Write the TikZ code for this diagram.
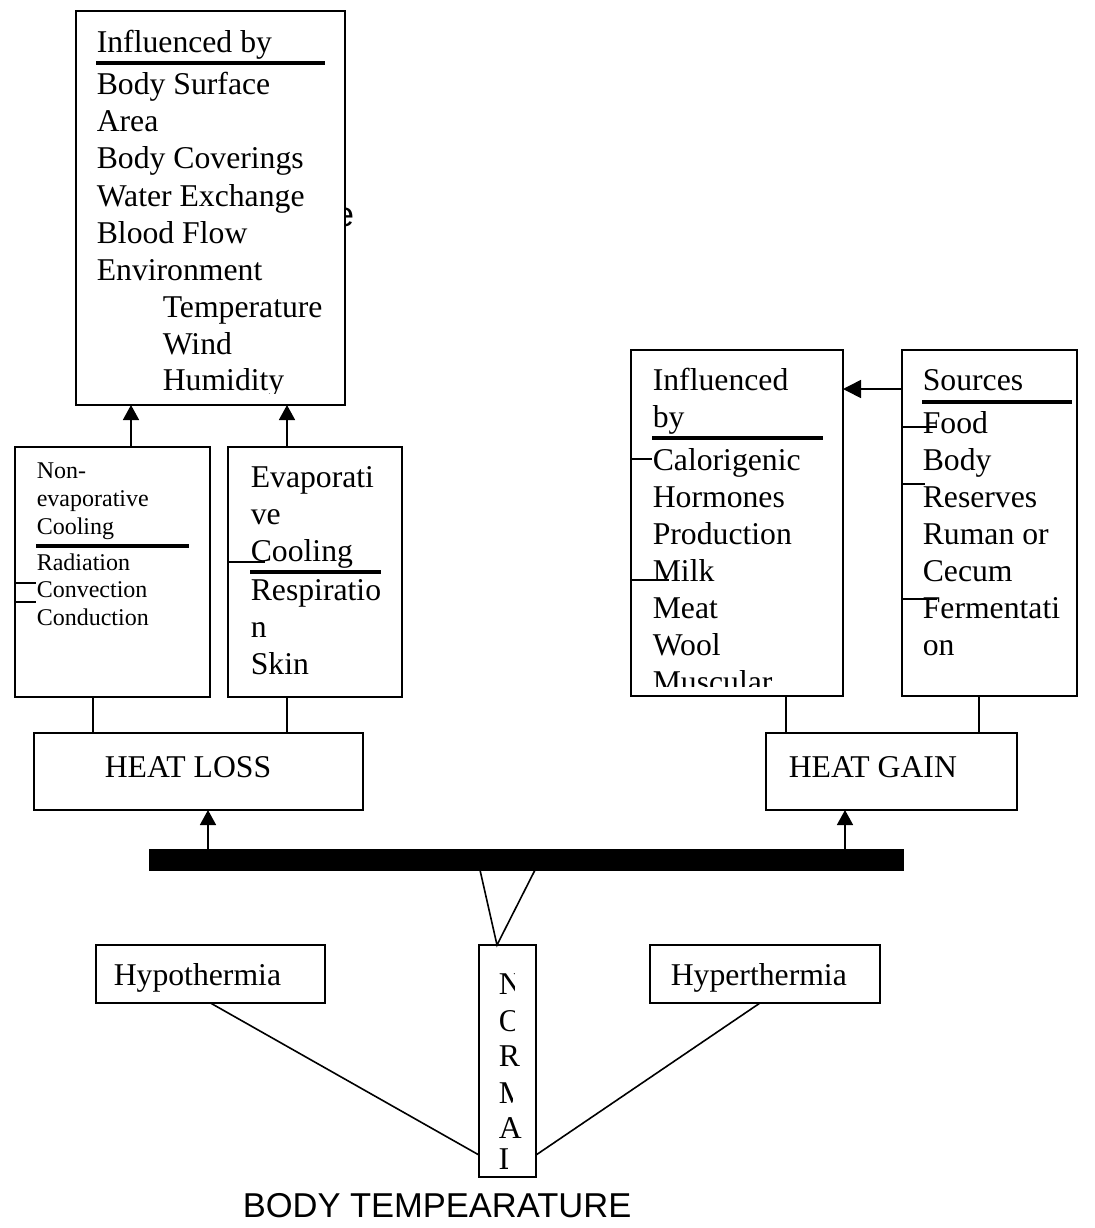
\documentclass[tikz,border=0pt]{standalone}
\usepackage{fontspec}
\setmainfont{Liberation Serif}
\setsansfont{Liberation Sans}
\usetikzlibrary{arrows.meta}

\begin{document}
\begin{tikzpicture}[x=0.5pt,y=-0.5pt,line width=0.8pt,
  box/.style={draw,fill=white,outer sep=0pt,inner sep=0pt},
  txt/.style={anchor=base west,inner sep=0pt,font=\fontsize{15.85}{18}\selectfont},
  small/.style={anchor=base west,inner sep=0pt,font=\fontsize{12}{14}\selectfont},
  sans/.style={anchor=base west,inner sep=0pt,font=\sffamily\fontsize{17.25}{20}\selectfont},
  rule/.style={line width=1.6pt},
  tip/.style={-{Triangle[width=8pt,length=7.5pt]}},
  bigtip/.style={-{Triangle[width=9pt,length=9pt]}}]
  \useasboundingbox (0,0) rectangle (1094,1228);

  \node[sans] (stray) at (334,226) {e};
  \node[box,minimum width=134.5pt,minimum height=197pt] (infl) at (210.5,208) {};
  \node[box,minimum width=97.5pt,minimum height=125pt] (nonevap) at (112.5,572) {};
  \node[box,minimum width=87pt,minimum height=125pt] (evap) at (315,572) {};
  \node[box,minimum width=164.5pt,minimum height=38.5pt] (loss) at (198.5,771.5) {};
  \node[box,minimum width=106pt,minimum height=173pt] (gainby) at (737,523) {};
  \node[box,minimum width=87.5pt,minimum height=173pt] (src) at (989.5,523) {};
  \node[box,minimum width=125.5pt,minimum height=38.5pt] (gain) at (891.5,771.5) {};
  \node[box,fill=black,minimum width=376.5pt,minimum height=10pt] (bar) at (526.5,860) {};
  \node[box,minimum width=114.5pt,minimum height=29pt] (hypo) at (210.5,974) {};
  \node[box,minimum width=115pt,minimum height=29pt] (hyper) at (765,974) {};
  \node[box,minimum width=28.5pt,minimum height=116pt] (normal) at (507.5,1061) {};

  \begin{scope}
    \clip (76,11) rectangle (345,393);
    \foreach \y/\t [count=\i] in {52/Influenced by,94/Body Surface,131/Area,168/Body Coverings,
        206/Water Exchange,243/Blood Flow,280/Environment}
      \node[txt] (infl-\i) at (96,\y) {\t};
    \foreach \y/\t [count=\i] in {317/Temperature,354/Wind,390/Humidity}
      \node[txt] (env-\i) at (162,\y) {\t};
  \end{scope}
  \draw[rule] (96,63) -- (325,63);

  \foreach \y/\t [count=\i] in {478/Non-,506/evaporative,534/Cooling,570/Radiation,597/Convection,625/Conduction}
    \node[small] (nonevap-\i) at (36,\y) {\t};
  \draw[rule] (36,546) -- (189,546);
  \draw (nonevap.west |- 0,583) -- ++(21,0);
  \draw (nonevap.west |- 0,602) -- ++(21,0);

  \foreach \y/\t [count=\i] in {487/Evaporati,524/ve,561/Cooling,600/Respiratio,637/n,674/Skin}
    \node[txt] (evap-\i) at (250,\y) {\t};
  \draw[rule] (250,572) -- (381,572);
  \draw (evap.west |- 0,562) -- ++(37,0);

  \begin{scope}
    \clip (631,350) rectangle (843,686);
    \foreach \y/\t [count=\i] in {390/Influenced,427/by,470/Calorigenic,507/Hormones,544/Production,
        581/Milk,618/Meat,655/Wool,692/Muscular}
      \node[txt] (gainby-\i) at (652,\y) {\t};
  \end{scope}
  \draw[rule] (652,438) -- (823,438);
  \draw (gainby.west |- 0,459) -- ++(21,0);
  \draw (gainby.west |- 0,580) -- ++(38,0);

  \foreach \y/\t [count=\i] in {390/Sources,433/Food,470/Body,507/Reserves,544/Ruman or,581/Cecum,
      618/Fermentati,655/on}
    \node[txt] (src-\i) at (922,\y) {\t};
  \draw[rule] (922,402) -- (1072,402);
  \draw (src.west |- 0,427) -- ++(35,0);
  \draw (src.west |- 0,484) -- ++(23,0);
  \draw (src.west |- 0,599) -- ++(35,0);
  \draw[bigtip] (src.west |- 0,389) -- (gainby.east |- 0,389);

  \node[txt] (losstxt) at (104,777) {HEAT LOSS};
  \node[txt] (gaintxt) at (788,777) {HEAT GAIN};
  \node[txt] (hypotxt) at (113,985) {Hypothermia};
  \node[txt] (hypertxt) at (670,985) {Hyperthermia};

  \foreach \y/\l/\w [count=\i] in {994/N/514,1031/O/514,1066/R/524,1103/M/512,1138/A/524,1169/L/507} {
    \begin{scope}
      \clip (479,\y-30) rectangle (\w,\y+8);
      \node[txt] (normal-\i) at (498,\y) {\l};
    \end{scope}
  }

  \node[sans] (bodytemp) at (242,1217) {BODY TEMPEARATURE};

  \draw[tip] (131,0 |- nonevap.north) -- (131,0 |- infl.south);
  \draw[tip] (287,0 |- evap.north) -- (287,0 |- infl.south);
  \draw (93,0 |- nonevap.south) -- (93,0 |- loss.north);
  \draw (287,0 |- evap.south) -- (287,0 |- loss.north);
  \draw (786,0 |- gainby.south) -- (786,0 |- gain.north);
  \draw (979,0 |- src.south) -- (979,0 |- gain.north);
  \draw[tip] (208,0 |- bar.north) -- (208,0 |- loss.south);
  \draw[tip] (845,0 |- bar.north) -- (845,0 |- gain.south);
  \draw (480,0 |- bar.south) -- (497,0 |- normal.north) -- (535,0 |- bar.south);
  \draw (hypo.south) -- (normal.west |- 0,1155);
  \draw (760,0 |- hyper.south) -- (normal.east |- 0,1155);
\end{tikzpicture}
\end{document}
